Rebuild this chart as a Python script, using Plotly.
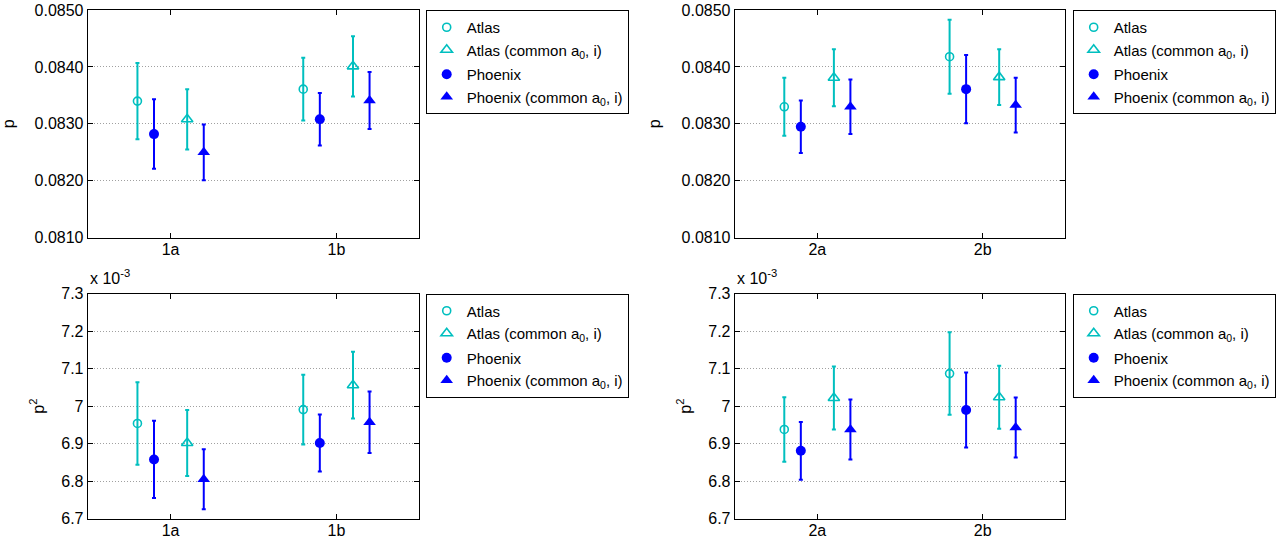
import plotly.graph_objects as go

# ---------------- data ----------------
cats_left = ["1a", "1b"]
cats_right = ["2a", "2b"]
series_names = ["Atlas", "Atlas (common a<sub>0</sub>, i)", "Phoenix", "Phoenix (common a<sub>0</sub>, i)"]
series_groups = ["Atlas", "Atlas", "Phoenix", "Phoenix"]

# p, left panel (1a, 1b)
p_atlas_L = [0.08340, 0.08361]
p_atlas_L_err = [0.00067, 0.00055]
p_atlasc_L = [0.08308, 0.08401]
p_atlasc_L_err = [0.00053, 0.00053]
p_phoenix_L = [0.08282, 0.08308]
p_phoenix_L_err = [0.00061, 0.00046]
p_phoenixc_L = [0.08250, 0.08341]
p_phoenixc_L_err = [0.00049, 0.00050]

# p, right panel (2a, 2b)
p_atlas_R = [0.08330, 0.08418]
p_atlas_R_err = [0.00051, 0.00065]
p_atlasc_R = [0.08381, 0.08382]
p_atlasc_R_err = [0.00050, 0.00049]
p_phoenix_R = [0.08295, 0.08361]
p_phoenix_R_err = [0.00046, 0.00060]
p_phoenixc_R = [0.08330, 0.08333]
p_phoenixc_R_err = [0.00048, 0.00048]

# p^2, left panel
p2_atlas_L = [6.954e-3, 6.991e-3]
p2_atlas_L_err = [0.110e-3, 0.093e-3]
p2_atlasc_L = [6.902e-3, 7.056e-3]
p2_atlasc_L_err = [0.088e-3, 0.089e-3]
p2_phoenix_L = [6.858e-3, 6.902e-3]
p2_phoenix_L_err = [0.103e-3, 0.076e-3]
p2_phoenixc_L = [6.805e-3, 6.957e-3]
p2_phoenixc_L_err = [0.080e-3, 0.082e-3]

# p^2, right panel
p2_atlas_R = [6.938e-3, 7.087e-3]
p2_atlas_R_err = [0.086e-3, 0.110e-3]
p2_atlasc_R = [7.022e-3, 7.024e-3]
p2_atlasc_R_err = [0.084e-3, 0.084e-3]
p2_phoenix_R = [6.881e-3, 6.990e-3]
p2_phoenix_R_err = [0.077e-3, 0.100e-3]
p2_phoenixc_R = [6.938e-3, 6.943e-3]
p2_phoenixc_R_err = [0.080e-3, 0.080e-3]

p_ticks = [0.081, 0.082, 0.083, 0.084, 0.085]
p2_ticks = [6.7e-3, 6.8e-3, 6.9e-3, 7.0e-3, 7.1e-3, 7.2e-3, 7.3e-3]
p2_ticktext = ["6.7", "6.8", "6.9", "7", "7.1", "7.2", "7.3"]

# ---------------- styles ----------------
CYAN = "#00BFBF"
BLUE = "#0000FF"
FONT = "Liberation Sans"
FS = 16
LFS = 15
offsets = [-0.2, 0.1, -0.1, 0.2]  # Atlas, Atlas common, Phoenix, Phoenix common
styles = [
    dict(symbol="circle-open", color=CYAN, size=8, line=dict(width=1.6, color=CYAN)),
    dict(symbol="triangle-up-open", color=CYAN, size=10, line=dict(width=1.6, color=CYAN)),
    dict(symbol="circle", color=BLUE, size=10, line=dict(width=0)),
    dict(symbol="triangle-up", color=BLUE, size=11, line=dict(width=0)),
]

fig = go.Figure()

panels = [
    ("x", "y", "legend", cats_left,
     [p_atlas_L, p_atlasc_L, p_phoenix_L, p_phoenixc_L],
     [p_atlas_L_err, p_atlasc_L_err, p_phoenix_L_err, p_phoenixc_L_err]),
    ("x2", "y2", "legend2", cats_right,
     [p_atlas_R, p_atlasc_R, p_phoenix_R, p_phoenixc_R],
     [p_atlas_R_err, p_atlasc_R_err, p_phoenix_R_err, p_phoenixc_R_err]),
    ("x3", "y3", "legend3", cats_left,
     [p2_atlas_L, p2_atlasc_L, p2_phoenix_L, p2_phoenixc_L],
     [p2_atlas_L_err, p2_atlasc_L_err, p2_phoenix_L_err, p2_phoenixc_L_err]),
    ("x4", "y4", "legend4", cats_right,
     [p2_atlas_R, p2_atlasc_R, p2_phoenix_R, p2_phoenixc_R],
     [p2_atlas_R_err, p2_atlasc_R_err, p2_phoenix_R_err, p2_phoenixc_R_err]),
]

for xa, ya, lg, cats, vals, errs in panels:
    for k in range(4):
        st = styles[k]
        xs = [i + 1 + offsets[k] for i in range(len(cats))]
        fig.add_trace(go.Scatter(
            x=xs, y=vals[k], mode="markers", name=series_names[k],
            xaxis=xa, yaxis=ya, legend=lg, legendgroup=lg + series_groups[k],
            marker=dict(symbol=st["symbol"], color=st["color"], size=st["size"], line=st["line"]),
            error_y=dict(type="data", array=errs[k], visible=True, color=st["color"],
                         thickness=2, width=2),
            hoverinfo="skip",
        ))

# ---------------- layout ----------------
W, H = 1286, 540
xdomL = [87.7 / W, 419.3 / W]
xdomR = [734.7 / W, 1065.3 / W]
ydomT = [1 - 237.7 / H, 1 - 10 / H]
ydomB = [1 - 518.7 / H, 1 - 293.7 / H]

def xaxis(dom, cats, anchor):
    return dict(domain=dom, range=[0.5, 2.5], tickvals=[1, 2], ticktext=cats, anchor=anchor,
                showgrid=False, zeroline=False, showline=True, linecolor="black",
                linewidth=1, mirror="allticks", ticks="inside", ticklen=5,
                tickcolor="black", automargin=False, ticklabelstandoff=-3,
                tickfont=dict(family=FONT, size=FS, color="black"))

def yaxis(dom, rng, tv, tt, title, anchor, standoff):
    return dict(domain=dom, range=rng, tickvals=tv, ticktext=tt, anchor=anchor,
                showgrid=True, gridcolor="#a0a0a0", griddash="1px,2px", gridwidth=1,
                zeroline=False, showline=True, linecolor="black", linewidth=1,
                mirror="allticks", ticks="inside", ticklen=5, tickcolor="black",
                automargin=False,
                tickfont=dict(family=FONT, size=FS, color="black"),
                title=dict(text=title, font=dict(family=FONT, size=FS, color="black"),
                           standoff=standoff))

p_ticktext = ["%.4f" % v for v in p_ticks]

fig.update_layout(
    width=W, height=H,
    margin=dict(l=0, r=0, t=0, b=0),
    paper_bgcolor="white", plot_bgcolor="white",
    font=dict(family=FONT, size=FS, color="black"),
    xaxis=xaxis(xdomL, cats_left, "y"),
    xaxis2=xaxis(xdomR, cats_right, "y2"),
    xaxis3=xaxis(xdomL, cats_left, "y3"),
    xaxis4=xaxis(xdomR, cats_right, "y4"),
    yaxis=yaxis(ydomT, [0.081, 0.085], p_ticks, p_ticktext, "p", "x", 16),
    yaxis2=yaxis(ydomT, [0.081, 0.085], p_ticks, p_ticktext, "p", "x2", 16),
    yaxis3=yaxis(ydomB, [6.7e-3, 7.3e-3], p2_ticks, p2_ticktext, "p<sup>2</sup>", "x3", 12),
    yaxis4=yaxis(ydomB, [6.7e-3, 7.3e-3], p2_ticks, p2_ticktext, "p<sup>2</sup>", "x4", 12),
    showlegend=True,
)

def legend(xl, ytop):
    return dict(x=xl, y=ytop, xanchor="left", yanchor="top", xref="paper", yref="paper",
                bgcolor="white", bordercolor="black", borderwidth=1,
                font=dict(family=FONT, size=LFS, color="black"),
                tracegroupgap=2, itemwidth=30, orientation="v")

fig.update_layout(
    legend=legend(425.7 / W, 1 - 10 / H),
    legend2=legend(1072.7 / W, 1 - 10 / H),
    legend3=legend(425.7 / W, 1 - 293.5 / H),
    legend4=legend(1072.7 / W, 1 - 293.5 / H),
)

# "x 10^-3" exponent labels above the p^2 panels
for xd in (xdomL, xdomR):
    fig.add_annotation(text="x 10<sup>-3</sup>", x=xd[0], y=1 - 289 / H, xref="paper", yref="paper",
                       xanchor="left", yanchor="bottom", showarrow=False,
                       font=dict(family=FONT, size=FS, color="black"))

fig.write_html("out.html", config={"displayModeBar": False},
               post_script="document.body.style.margin='0px';document.body.style.overflow='hidden';")
